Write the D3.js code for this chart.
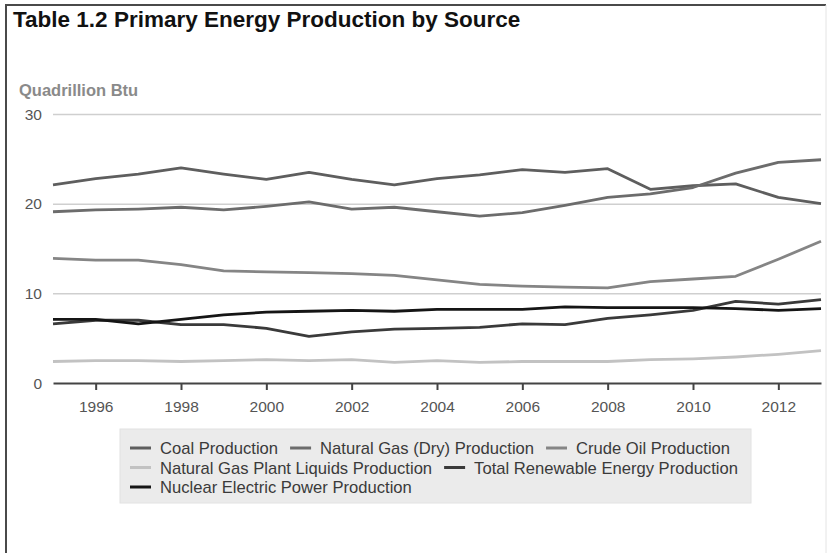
<!DOCTYPE html>
<html>
<head>
<meta charset="utf-8">
<script src="https://cdn.jsdelivr.net/npm/d3@7"></script>
<style>
  html, body { margin: 0; padding: 0; background: #fff; }
  svg { display: block; font-family: "Liberation Sans", Arial, sans-serif; }
</style>
</head>
<body>
<svg id="chart" width="828" height="553"></svg>
<script>
const years = d3.range(1995, 2014);
const tickYears = [1996, 1998, 2000, 2002, 2004, 2006, 2008, 2010, 2012];
const yTicks = [0, 10, 20, 30];

const seriesNames = [
  "Coal Production",
  "Natural Gas (Dry) Production",
  "Crude Oil Production",
  "Natural Gas Plant Liquids Production",
  "Total Renewable Energy Production",
  "Nuclear Electric Power Production"
];
const seriesColors = ["#5e5e5e", "#6c6c6c", "#858585", "#c2c2c2", "#3a3a3a", "#151515"];

const coal = [22.1, 22.8, 23.3, 24.0, 23.3, 22.7, 23.5, 22.7, 22.1, 22.8, 23.2, 23.8, 23.5, 23.9, 21.6, 22.0, 22.2, 20.7, 20.0];
const naturalGas = [19.1, 19.3, 19.4, 19.6, 19.3, 19.7, 20.2, 19.4, 19.6, 19.1, 18.6, 19.0, 19.8, 20.7, 21.1, 21.8, 23.4, 24.6, 24.9];
const crudeOil = [13.9, 13.7, 13.7, 13.2, 12.5, 12.4, 12.3, 12.2, 12.0, 11.5, 11.0, 10.8, 10.7, 10.6, 11.3, 11.6, 11.9, 13.8, 15.8];
const ngpl = [2.4, 2.5, 2.5, 2.4, 2.5, 2.6, 2.5, 2.6, 2.3, 2.5, 2.3, 2.4, 2.4, 2.4, 2.6, 2.7, 2.9, 3.2, 3.6];
const renewable = [6.6, 7.0, 7.0, 6.5, 6.5, 6.1, 5.2, 5.7, 6.0, 6.1, 6.2, 6.6, 6.5, 7.2, 7.6, 8.1, 9.1, 8.8, 9.3];
const nuclear = [7.1, 7.1, 6.6, 7.1, 7.6, 7.9, 8.0, 8.1, 8.0, 8.2, 8.2, 8.2, 8.5, 8.4, 8.4, 8.4, 8.3, 8.1, 8.3];

const seriesValues = [coal, naturalGas, crudeOil, ngpl, renewable, nuclear];

const svg = d3.select("#chart");

// frame
svg.append("path")
  .attr("d", "M6,560 V5 H826")
  .attr("fill", "none")
  .attr("stroke", "#4a4a4a")
  .attr("stroke-width", 2);
svg.append("line")
  .attr("x1", 826).attr("x2", 826).attr("y1", 5).attr("y2", 560)
  .attr("stroke", "#e4e4e4").attr("stroke-width", 1);

svg.append("text")
  .attr("x", 13).attr("y", 27)
  .attr("font-size", 22.5).attr("font-weight", "bold").attr("fill", "#111")
  .text("Table 1.2 Primary Energy Production by Source");

svg.append("text")
  .attr("x", 19).attr("y", 96)
  .attr("font-size", 16.5).attr("font-weight", "bold").attr("fill", "#8a8a8a")
  .text("Quadrillion Btu");

const x = d3.scaleLinear().domain([1995, 2013]).range([53, 821]);
const y = d3.scaleLinear().domain([0, 30]).range([383, 114]);

// gridlines
svg.append("g")
  .attr("transform", "translate(53,0)")
  .call(d3.axisLeft(y).tickValues(yTicks.filter(d => d > 0)).tickSize(-768).tickFormat(""))
  .call(g => g.select(".domain").remove())
  .call(g => g.selectAll("line").attr("stroke", "#cfcfcf").attr("stroke-width", 1.5));

// y labels
svg.append("g")
  .selectAll("text")
  .data(yTicks)
  .join("text")
  .attr("x", 42)
  .attr("y", d => y(d) + 5.5)
  .attr("text-anchor", "end")
  .attr("font-size", 15.5)
  .attr("fill", "#555")
  .text(d => d);

// lines
const line = d3.line()
  .x((d, i) => x(years[i]))
  .y(d => y(d));

svg.append("g")
  .selectAll("path")
  .data(seriesValues)
  .join("path")
  .attr("d", d => line(d))
  .attr("fill", "none")
  .attr("stroke", (d, i) => seriesColors[i])
  .attr("stroke-width", 2.8)
  .attr("stroke-linejoin", "round");

// x axis
const xAxis = svg.append("g")
  .attr("transform", "translate(0,383)")
  .call(d3.axisBottom(x).tickValues(tickYears).tickFormat(d3.format("d")).tickSize(7).tickSizeOuter(0))
  .call(g => g.select(".domain").attr("stroke", "#444").attr("stroke-width", 2))
  .call(g => g.selectAll(".tick line").attr("stroke", "#444").attr("stroke-width", 2));
xAxis.selectAll(".tick text")
  .attr("font-size", 15.5)
  .attr("font-family", "Liberation Sans, Arial, sans-serif")
  .attr("fill", "#555")
  .attr("y", 18);

// legend
svg.append("rect")
  .attr("x", 120).attr("y", 429)
  .attr("width", 631).attr("height", 74)
  .attr("fill", "#ebebeb")
  .attr("stroke", "#e2e2e2");

const legend = svg.append("g");
let lx = 130, ly = 448;
const maxX = 745;
seriesNames.forEach((name, i) => {
  const item = legend.append("g");
  const t = item.append("text")
    .attr("x", 30).attr("y", 6)
    .attr("font-size", 16.6)
    .attr("fill", "#3a3a3a")
    .text(name);
  const w = 30 + t.node().getComputedTextLength();
  if (lx > 130 && lx + w > maxX) {
    lx = 130;
    ly += 19.5;
  }
  item.attr("transform", `translate(${lx},${ly})`);
  item.append("line")
    .attr("x1", 0).attr("x2", 21).attr("y1", 0).attr("y2", 0)
    .attr("stroke", seriesColors[i])
    .attr("stroke-width", 3);
  lx += w + 12;
});
</script>
</body>
</html>
